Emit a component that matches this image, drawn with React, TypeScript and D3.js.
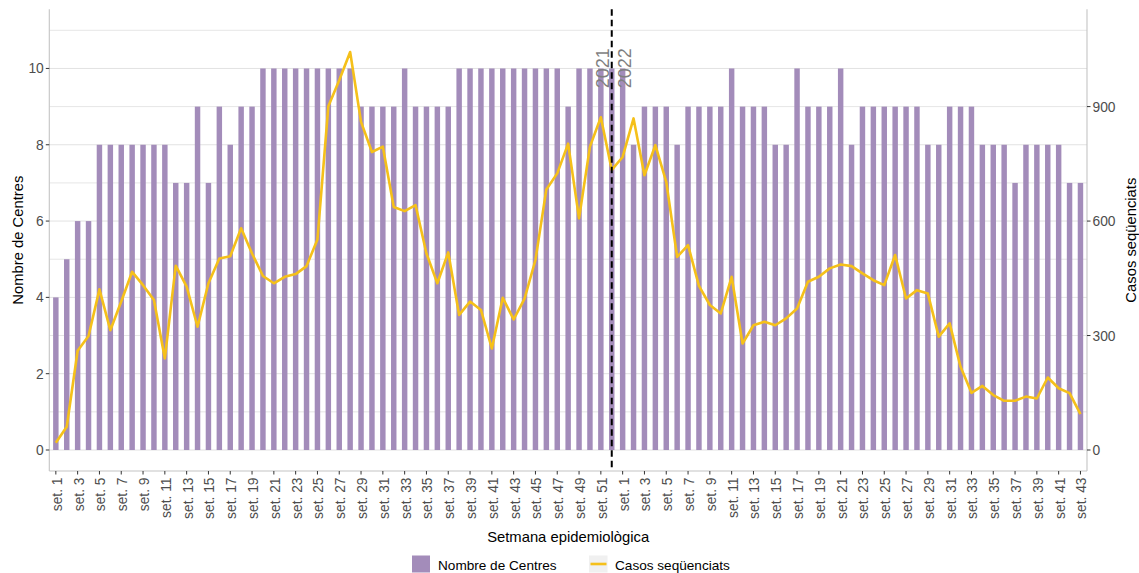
import React from 'react';
import * as d3 from 'd3';

// ---------- data ----------
const weeks2021 = [1,2,3,4,5,6,7,8,9,10,11,12,13,14,15,16,17,18,19,20,21,22,23,24,25,26,27,28,29,30,31,32,33,34,35,36,37,38,39,40,41,42,43,44,45,46,47,48,49,50,51,52];
const weeks2022 = [1,2,3,4,5,6,7,8,9,10,11,12,13,14,15,16,17,18,19,20,21,22,23,24,25,26,27,28,29,30,31,32,33,34,35,36,37,38,39,40,41,42,43];

const centres2021 = [4,5,6,6,8,8,8,8,8,8,8,7,7,9,7,9,8,9,9,10,10,10,10,10,10,10,10,10,9,9,9,9,10,9,9,9,9,10,10,10,10,10,10,10,10,10,10,9,10,10,10,10];
const centres2022 = [10,8,9,9,9,8,9,9,9,9,10,9,9,9,8,8,10,9,9,9,10,8,9,9,9,9,9,9,8,8,9,9,9,8,8,8,7,8,8,8,8,7,7];

const casos2021 = [19,61,260,299,421,314,389,467,432,393,240,483,428,323,437,502,508,581,515,456,437,454,461,482,552,901,969,1043,860,781,795,637,626,642,515,437,518,354,389,367,266,399,342,397,498,683,725,803,607,795,872,734];
const casos2022 = [768,869,720,799,703,506,537,430,380,358,454,279,327,336,327,345,371,441,454,476,486,482,463,445,432,511,397,419,410,297,332,218,150,168,144,129,129,140,135,190,162,149,94];

const yLeftTicks = [0, 2, 4, 6, 8, 10];
const yRightTicks = [0, 300, 600, 900];
const gridValues = [0, 1, 2, 3, 4, 5, 6, 7, 8, 9, 10, 11];
const yearLabels = ['2021', '2022'];

const seriesNames = ['Nombre de Centres', 'Casos seqüenciats'];

const FONT = '"Liberation Sans", Arial, Helvetica, sans-serif';
const BAR = '#a38cba';
const LINE = '#f5c01a';

export default function App() {
  const W = 1139, H = 573;
  const left = 49.3, right = 1087, top = 9.3, bottom = 471;

  const cats = [
    ...weeks2021.map(w => `2021-${w}`),
    ...weeks2022.map(w => `2022-${w}`),
  ];
  const weekOf = [...weeks2021, ...weeks2022];
  const centres = [...centres2021, ...centres2022];
  const casos = [...casos2021, ...casos2022];

  const x = d3.scaleBand<string>().domain(cats).range([left, right]).paddingInner(0.5).paddingOuter(0.35);
  const cx = (c: string) => (x(c) as number) + x.bandwidth() / 2;
  const yL = d3.scaleLinear().domain([-0.55, 11.55]).range([bottom, top]);
  const yR = d3.scaleLinear().domain([-55, 1155]).range([bottom, top]);

  const linePath = d3.line<number>()
    .x((_d, i) => cx(cats[i]))
    .y(d => yR(d))(casos) as string;

  const breakX = cx(`2021-${weeks2021[weeks2021.length - 1]}`);

  const tickColor = '#4d4d4d';
  const axisColor = '#c4c4c4';

  return (
    <svg width={W} height={H} style={{ position: 'absolute', left: 0, top: 0, background: '#fff' }} fontFamily={FONT}>
      {/* grid */}
      {gridValues.map(v => (
        <line key={'g' + v} x1={left} x2={right} y1={yL(v)} y2={yL(v)} stroke={v % 2 === 0 ? '#e2e2e2' : '#e6e6e6'} strokeWidth={1} />
      ))}

      {/* bars */}
      {centres.map((v, i) => (
        <rect key={'b' + i} x={x(cats[i])} width={x.bandwidth()} y={yL(v)} height={yL(0) - yL(v)} fill={BAR} />
      ))}

      {/* line */}
      <path d={linePath} fill="none" stroke={LINE} strokeWidth={2.6} strokeLinejoin="round" />

      {/* year break */}
      <line x1={breakX} x2={breakX} y1={top} y2={bottom} stroke="#000" strokeWidth={2} strokeDasharray="6.5 4" />
      <text transform={`translate(${breakX - 3.2},${yL(9.48)}) rotate(-90)`} fontSize={18} fill="#7f7f7f">{yearLabels[0]}</text>
      <text transform={`translate(${breakX + 19},${yL(9.48)}) rotate(-90)`} fontSize={18} fill="#7f7f7f">{yearLabels[1]}</text>

      {/* axes lines */}
      <line x1={left} x2={left} y1={top} y2={bottom} stroke={axisColor} strokeWidth={1.1} />
      <line x1={right} x2={right} y1={top} y2={bottom} stroke={axisColor} strokeWidth={1.1} />
      <line x1={left} x2={right} y1={bottom} y2={bottom} stroke={axisColor} strokeWidth={1.1} />

      {/* left ticks */}
      {yLeftTicks.map(t => (
        <g key={'l' + t}>
          <line x1={left - 3.5} x2={left} y1={yL(t)} y2={yL(t)} stroke="#333" strokeWidth={1} />
          <text x={left - 5.5} y={yL(t)} dy="0.36em" textAnchor="end" fontSize={13.8} fill={tickColor}>{t}</text>
        </g>
      ))}

      {/* right ticks */}
      {yRightTicks.map(t => (
        <g key={'r' + t}>
          <line x1={right} x2={right + 3.5} y1={yR(t)} y2={yR(t)} stroke="#333" strokeWidth={1} />
          <text x={right + 5.5} y={yR(t)} dy="0.36em" textAnchor="start" fontSize={13.8} fill={tickColor}>{t}</text>
        </g>
      ))}

      {/* x ticks */}
      {cats.map((c, i) => weekOf[i] % 2 === 1 ? (
        <g key={'x' + i}>
          <line x1={cx(c)} x2={cx(c)} y1={bottom} y2={bottom + 3.5} stroke="#333" strokeWidth={1} />
          <text transform={`translate(${cx(c) + 1},${bottom + 6.5}) rotate(-90)`} dy="0.36em" textAnchor="end" fontSize={13.8} fill={tickColor}>{`set. ${weekOf[i]}`}</text>
        </g>
      ) : null)}

      {/* axis titles */}
      <text x={(left + right) / 2} y={541.5} textAnchor="middle" fontSize={14.8} fill="#000">Setmana epidemiològica</text>
      <text transform={`translate(23.3,${(top + bottom) / 2}) rotate(-90)`} textAnchor="middle" fontSize={14.8} fill="#000">Nombre de Centres</text>
      <text transform={`translate(1135.5,${(top + bottom) / 2}) rotate(-90)`} textAnchor="middle" fontSize={14.8} fill="#000">Casos seqüenciats</text>

      {/* legend */}
      <g>
        <rect x={412} y={555.5} width={18} height={17} fill={BAR} />
        <text x={438} y={570} fontSize={13.6} fill="#000">{seriesNames[0]}</text>
        <rect x={589} y={555.5} width={18.5} height={17} fill="#f0f0f0" />
        <line x1={590.5} x2={606.5} y1={564} y2={564} stroke={LINE} strokeWidth={2.6} />
        <text x={615} y={570} fontSize={13.6} fill="#000">{seriesNames[1]}</text>
      </g>
    </svg>
  );
}
